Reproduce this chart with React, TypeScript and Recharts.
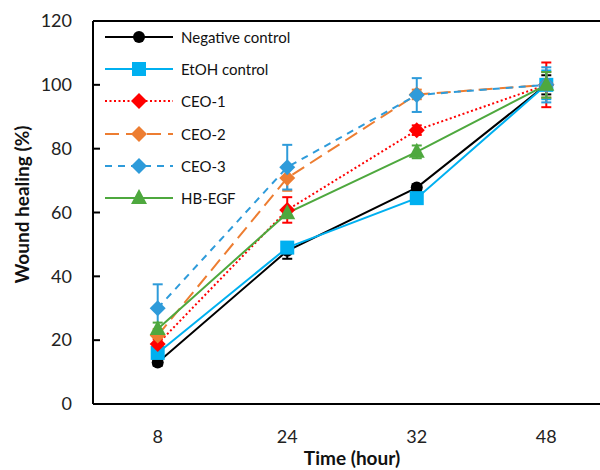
import React from 'react';
import { LineChart, Line, XAxis, YAxis, ErrorBar, ReferenceLine, Label } from 'recharts';

// ─── Data ────────────────────────────────────────────────────────
const times = ['8', '24', '32', '48'];
const yTicks = [0, 20, 40, 60, 80, 100, 120];

const negative = [13, 48, 67.8, 100];
const negativeErr = [1, 2.5, 1, 3];
const etoh = [16, 49, 64.5, 100];
const etohErr = [1.5, 1.5, 1.5, 4.5];
const ceo1 = [18.8, 60.8, 85.8, 100];
const ceo1Err = [1.5, 4, 1.5, 7];
const ceo2 = [21.5, 70.8, 97, 100];
const ceo2Err = [2, 4, 1.5, 4];
const ceo3 = [30, 74.2, 96.8, 100];
const ceo3Err = [7.5, 7, 5.3, 5.5];
const hbegf = [23.5, 59.8, 79, 100];
const hbegfErr = [2, 1.5, 2, 4];

type Shape = 'circle' | 'square' | 'diamond' | 'triangle';

const series = [
  { key: 'neg', name: 'Negative control', color: '#000000', dash: undefined, shape: 'circle' as Shape, values: negative, err: negativeErr },
  { key: 'etoh', name: 'EtOH control', color: '#00B0F0', dash: undefined, shape: 'square' as Shape, values: etoh, err: etohErr },
  { key: 'ceo1', name: 'CEO-1', color: '#FF0000', dash: '2 2.5', shape: 'diamond' as Shape, values: ceo1, err: ceo1Err },
  { key: 'ceo2', name: 'CEO-2', color: '#ED7D31', dash: '14 7', shape: 'diamond' as Shape, values: ceo2, err: ceo2Err },
  { key: 'ceo3', name: 'CEO-3', color: '#2E9BDA', dash: '7 6', shape: 'diamond' as Shape, values: ceo3, err: ceo3Err },
  { key: 'hb', name: 'HB-EGF', color: '#4EA83E', dash: undefined, shape: 'triangle' as Shape, values: hbegf, err: hbegfErr },
];

const data = times.map((t, i) => {
  const row: Record<string, number | string> = { time: t };
  series.forEach((s) => {
    row[s.key] = s.values[i];
    row[s.key + 'Err'] = s.err[i];
  });
  return row;
});

const FONT = 'Lato, "Open Sans", sans-serif';

const Marker: React.FC<{ cx: number; cy: number; shape: Shape; color: string }> = ({ cx, cy, shape, color }) => {
  if (shape === 'circle') return <circle cx={cx} cy={cy} r={6} fill={color} />;
  if (shape === 'square') return <rect x={cx - 7} y={cy - 7} width={14} height={14} fill={color} />;
  if (shape === 'diamond')
    return <polygon points={`${cx},${cy - 8} ${cx + 8},${cy} ${cx},${cy + 8} ${cx - 8},${cy}`} fill={color} />;
  return <polygon points={`${cx},${cy - 9} ${cx + 8},${cy + 6} ${cx - 8},${cy + 6}`} fill={color} />;
};

const YTick = (props: any) => {
  const { x, y, payload } = props;
  return (
    <g>
      <line x1={x + 21} x2={x + 28} y1={y} y2={y} stroke="#000" strokeWidth={2} />
      <text x={x} y={y} dy="0.35em" textAnchor="end" fontSize={18} fill="#222" fontFamily={FONT}>
        {payload.value}
      </text>
    </g>
  );
};

export default function App() {
  return (
    <div style={{ position: 'fixed', left: 0, top: 0, width: 600, height: 470, overflow: 'hidden', background: '#fff' }}>
      <LineChart width={620} height={470} data={data} margin={{ top: 21, right: 9, left: 0, bottom: 0 }}>
        <XAxis
          dataKey="time"
          height={66}
          padding={{ left: 64.7, right: 64.7 }}
          tickLine={false}
          tickSize={0}
          tickMargin={26}
          axisLine={{ stroke: '#000', strokeWidth: 2 }}
          tick={{ fontSize: 18, fill: '#222', fontFamily: FONT }}
        >
          <Label
            value="Time (hour)"
            position="insideBottom"
            offset={5}
            style={{ fontSize: 19, fontWeight: 700, fill: '#111', fontFamily: FONT }}
          />
        </XAxis>
        <YAxis
          width={93}
          domain={[0, 120]}
          ticks={yTicks}
          interval={0}
          tickLine={false}
          tickSize={0}
          tickMargin={21}
          axisLine={{ stroke: '#000', strokeWidth: 2 }}
          tick={<YTick />}
        >
          <Label
            value="Wound healing (%)"
            angle={-90}
            position="insideLeft"
            offset={22}
            dy={-8}
            style={{ textAnchor: 'middle', fontSize: 19, fontWeight: 700, fill: '#111', fontFamily: FONT }}
          />
        </YAxis>
        <ReferenceLine y={120} stroke="#000" strokeWidth={2} />
        {series.map((s) => (
          <Line
            key={s.key}
            dataKey={s.key}
            name={s.name}
            type="linear"
            stroke={s.color}
            strokeWidth={2}
            strokeDasharray={s.dash}
            isAnimationActive={false}
            dot={(p: any) => <Marker key={p.index} cx={p.cx} cy={p.cy} shape={s.shape} color={s.color} />}
            activeDot={false}
          >
            <ErrorBar dataKey={s.key + 'Err'} width={5} stroke={s.color} strokeWidth={2} direction="y" isAnimationActive={false} />
          </Line>
        ))}
      </LineChart>

      {/* Legend inside the plot area */}
      <div style={{ position: 'absolute', left: 104, top: 21, fontFamily: FONT, fontSize: 15, color: '#111' }}>
        {series.map((s) => (
          <div key={s.key} style={{ display: 'flex', alignItems: 'center', height: 32.2 }}>
            <svg width={72} height={20}>
              <line x1={1} x2={69} y1={10} y2={10} stroke={s.color} strokeWidth={2} strokeDasharray={s.dash} />
              <Marker cx={35} cy={10} shape={s.shape} color={s.color} />
            </svg>
            <span style={{ marginLeft: 5 }}>{s.name}</span>
          </div>
        ))}
      </div>
    </div>
  );
}
